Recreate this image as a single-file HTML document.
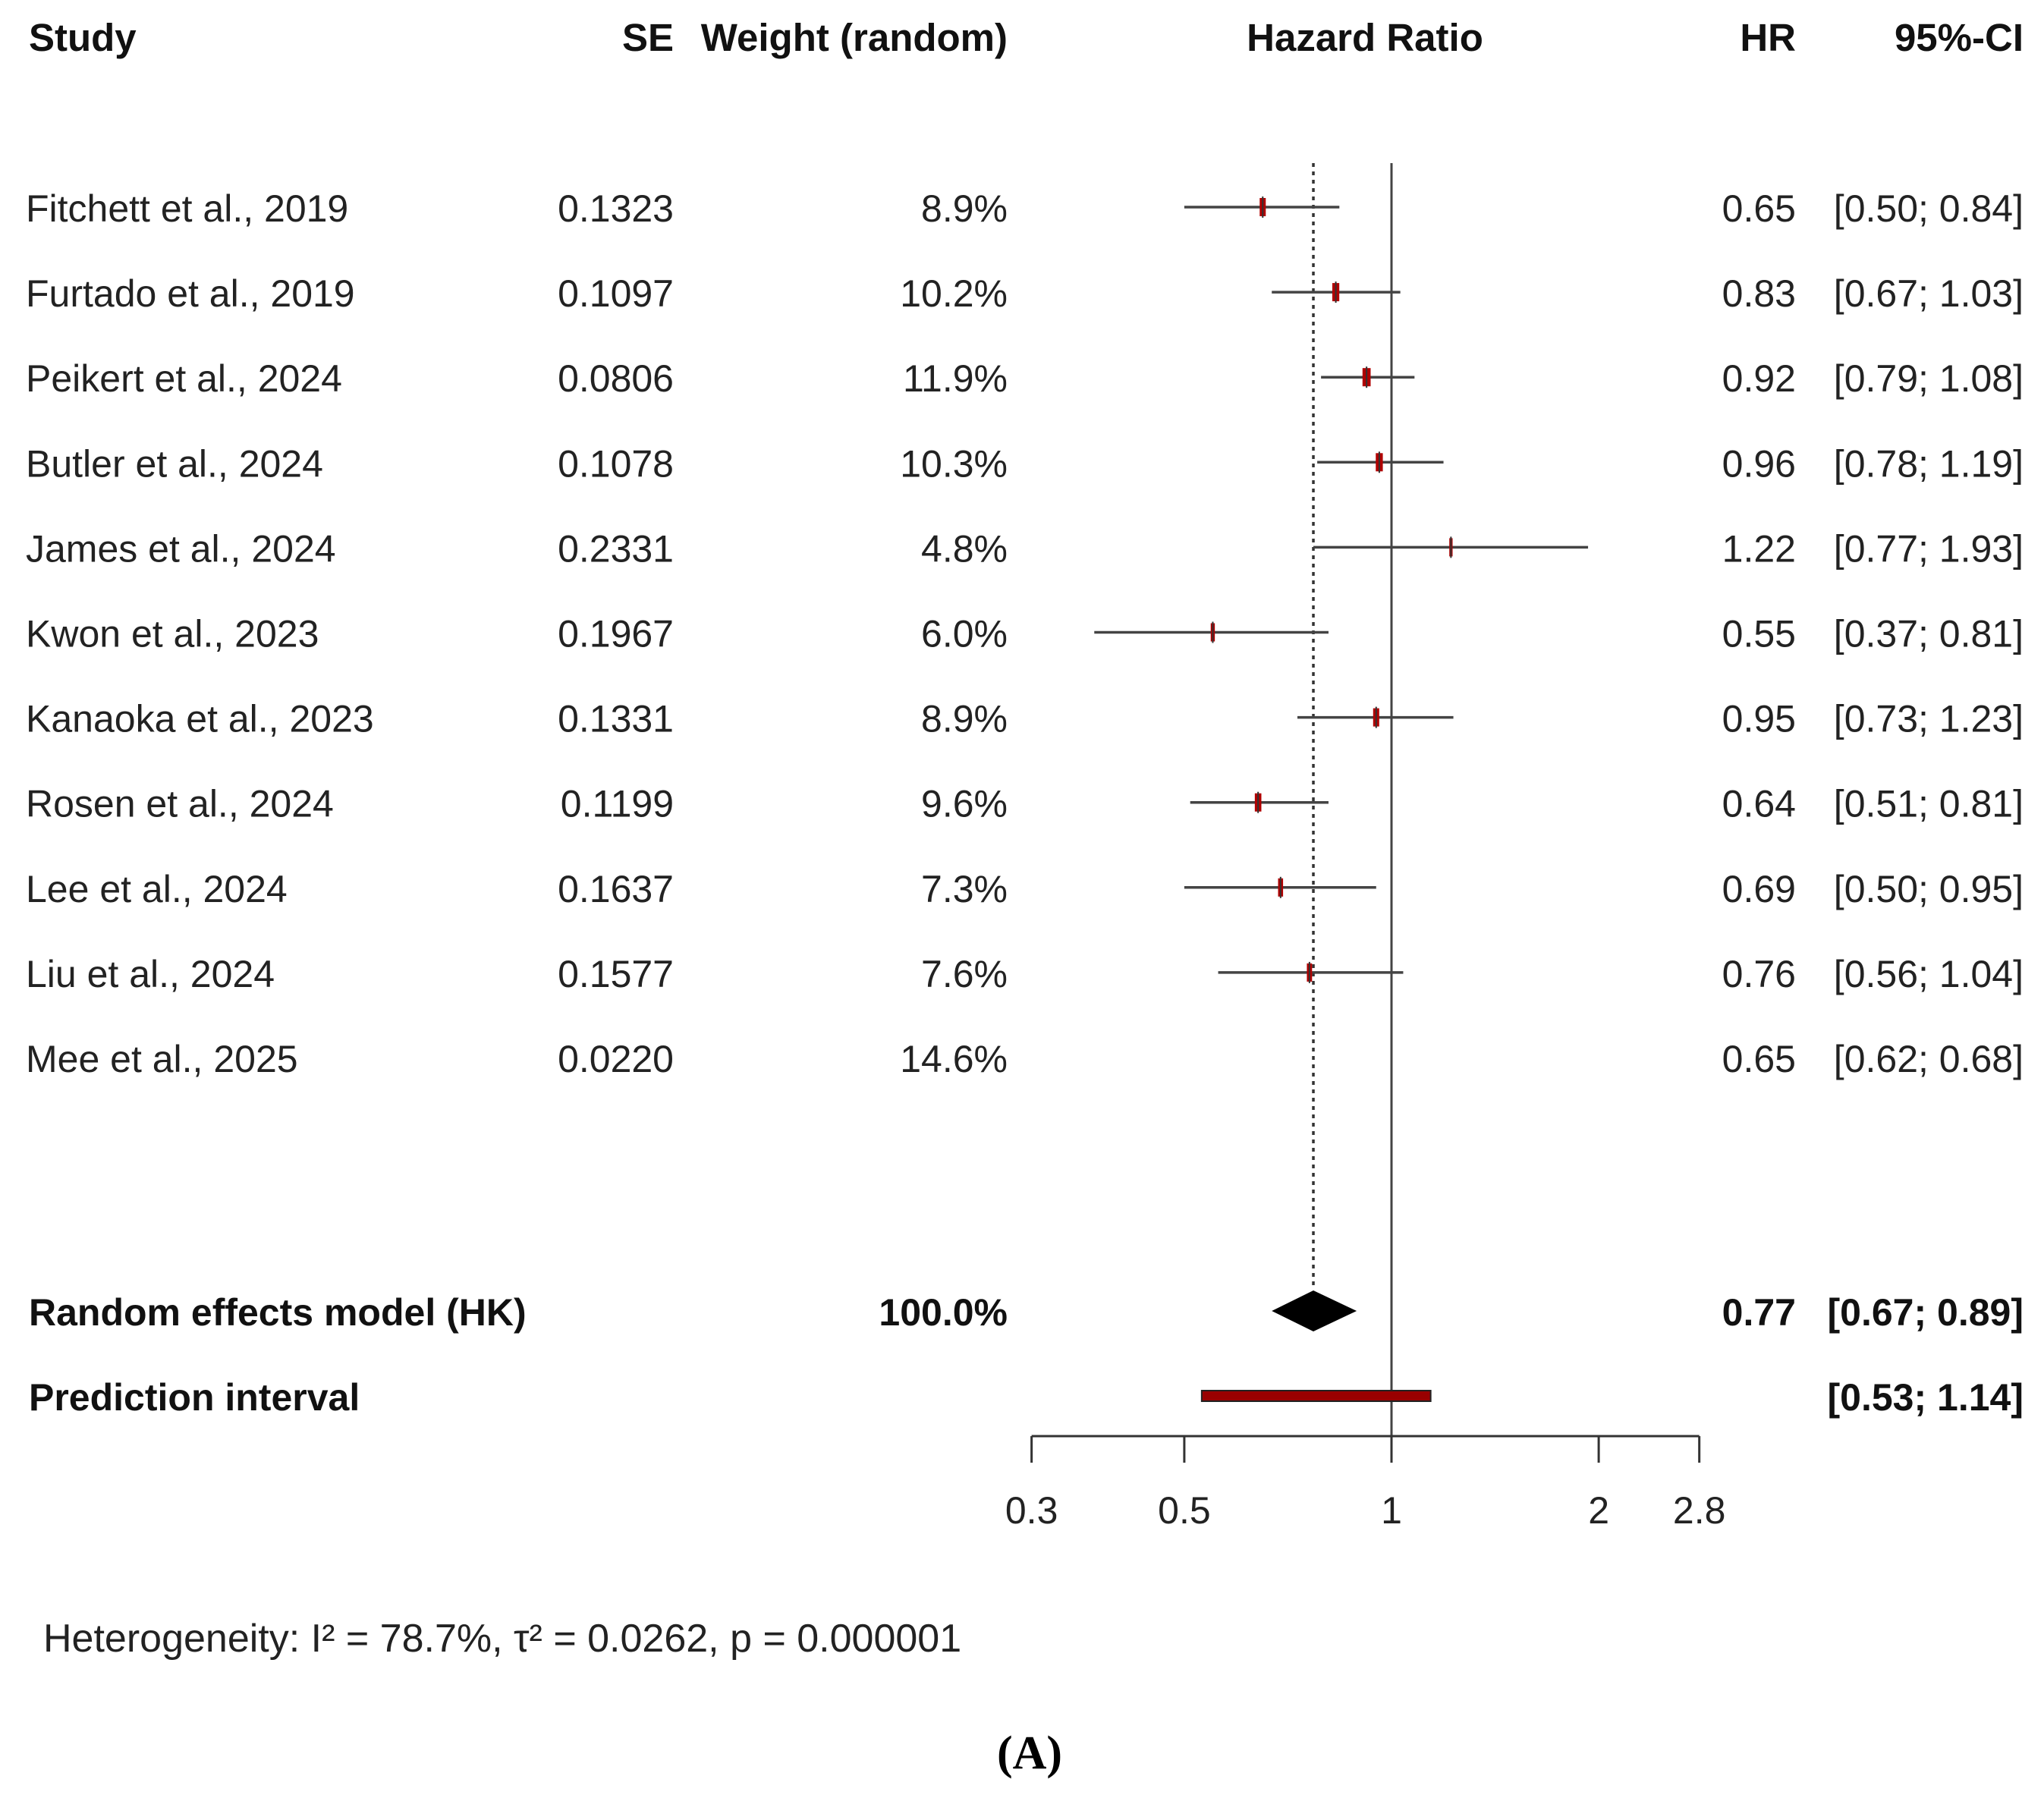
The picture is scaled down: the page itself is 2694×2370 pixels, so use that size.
<!DOCTYPE html>
<html><head><meta charset="utf-8"><style>
html,body{margin:0;padding:0;background:#fff;}
svg{display:block;font-family:"Liberation Sans",Arial,sans-serif;}
</style></head><body>
<svg id="chart" width="2694" height="2370" viewBox="0 0 2694 2370" xmlns="http://www.w3.org/2000/svg">
<g id="hdr" font-weight="bold" font-size="51" fill="#111">
<text x="38" y="67">Study</text>
<text x="888" y="67" text-anchor="end">SE</text>
<text x="1328" y="67" text-anchor="end">Weight (random)</text>
<text x="1799" y="67" text-anchor="middle">Hazard Ratio</text>
<text x="2367" y="67" text-anchor="end">HR</text>
<text x="2667" y="67" text-anchor="end">95%-CI</text>
</g>
<g id="rows"></g>
<g id="plot"></g>
<text x="57" y="2177" font-size="52" fill="#222">Heterogeneity: I² = 78.7%, τ² = 0.0262, p = 0.000001</text>
<text x="1357" y="2331" font-size="62" font-weight="bold" text-anchor="middle" font-family="Liberation Serif, serif">(A)</text>
</svg>
<script>
const studies = ["Fitchett et al., 2019","Furtado et al., 2019","Peikert et al., 2024","Butler et al., 2024","James et al., 2024","Kwon et al., 2023","Kanaoka et al., 2023","Rosen et al., 2024","Lee et al., 2024","Liu et al., 2024","Mee et al., 2025"];
const seVals = ["0.1323","0.1097","0.0806","0.1078","0.2331","0.1967","0.1331","0.1199","0.1637","0.1577","0.0220"];
const weights = [8.9,10.2,11.9,10.3,4.8,6.0,8.9,9.6,7.3,7.6,14.6];
const hr = [0.65,0.83,0.92,0.96,1.22,0.55,0.95,0.64,0.69,0.76,0.65];
const lower = [0.50,0.67,0.79,0.78,0.77,0.37,0.73,0.51,0.50,0.56,0.62];
const upper = [0.84,1.03,1.08,1.19,1.93,0.81,1.23,0.81,0.95,1.04,0.68];
const shown = [1,1,1,1,1,1,1,1,1,1,0];
const pooled = [0.77,0.67,0.89];
const predInt = [0.53,1.14];
const ticks = [0.3,0.5,1,2,2.8];
const tickLabels = ["0.3","0.5","1","2","2.8"];

const NS="http://www.w3.org/2000/svg";
const xs = v => 1834 + 394*Math.log(v);
const ys = i => 273 + 112.1*i;
function mk(tag, attrs, parent, txt){const e=document.createElementNS(NS,tag);for(const k in attrs)e.setAttribute(k,attrs[k]);if(txt!==undefined)e.textContent=txt;parent.appendChild(e);return e;}
const rows=document.getElementById('rows'), plot=document.getElementById('plot');
const f2=v=>v.toFixed(2);

let l=mk('line',{x1:xs(1),x2:xs(1),y1:215,y2:1893,stroke:'#444','stroke-width':3},plot);


l=mk('line',{x1:xs(pooled[0]),x2:xs(pooled[0]),y1:215,y2:1700,stroke:'#333','stroke-width':3.5,'stroke-dasharray':'5 6'},plot);



studies.forEach((s,i)=>{
  const y=ys(i), by=y+19;
  let t=mk('text',{x:34,y:by,'font-size':50,fill:'#222'},rows,s);
  
  
  t=mk('text',{x:888,y:by,'font-size':50,fill:'#222','text-anchor':'end'},rows,seVals[i]);
  
  
  t=mk('text',{x:1328,y:by,'font-size':50,fill:'#222','text-anchor':'end'},rows,weights[i].toFixed(1)+'%');
  
  
  t=mk('text',{x:2367,y:by,'font-size':50,fill:'#222','text-anchor':'end'},rows,f2(hr[i]));
  
  
  t=mk('text',{x:2667,y:by,'font-size':50,fill:'#222','text-anchor':'end'},rows,'['+f2(lower[i])+'; '+f2(upper[i])+']');
  
  
  if(!shown[i]) return;
  const ci=mk('line',{x1:xs(lower[i]),x2:xs(upper[i]),y1:y,y2:y,stroke:'#444','stroke-width':3.5},plot);
  
  
  const w=Math.max(3,weights[i]*0.9);
  const m=mk('rect',{x:xs(hr[i])-w/2,y:y-12,width:w,height:24,fill:'#b00000'},plot);
  
  
  const tk=mk('line',{x1:xs(hr[i]),x2:xs(hr[i]),y1:y-14,y2:y+14,stroke:'#333','stroke-width':2},plot);
  
  
});

const sy=1728, py=1840;
[[38,'Random effects model (HK)','start','summary-label'],[1328,'100.0%','end','summary-weight'],[2367,f2(pooled[0]),'end','summary-hr'],[2667,'['+f2(pooled[1])+'; '+f2(pooled[2])+']','end','summary-ci']].forEach(a=>{
  const t=mk('text',{x:a[0],y:sy+19,'font-size':50,'font-weight':'bold',fill:'#111','text-anchor':a[2]},rows,a[1]);
  
  
});
[[38,'Prediction interval','start','prediction-label'],[2667,'['+f2(predInt[0])+'; '+f2(predInt[1])+']','end','prediction-ci']].forEach(a=>{
  const t=mk('text',{x:a[0],y:py+19,'font-size':50,'font-weight':'bold',fill:'#111','text-anchor':a[2]},rows,a[1]);
  
  
});
const dm=mk('polygon',{points:`${xs(pooled[1])},${sy} ${xs(pooled[0])},${sy-27} ${xs(pooled[2])},${sy} ${xs(pooled[0])},${sy+27}`,fill:'#000'},plot);


const pb=mk('rect',{x:xs(predInt[0]),y:py-7,width:xs(predInt[1])-xs(predInt[0]),height:14,fill:'#990000',stroke:'#222','stroke-width':2},plot);



const ax=mk('line',{x1:xs(ticks[0]),x2:xs(ticks[ticks.length-1]),y1:1893,y2:1893,stroke:'#333','stroke-width':3},plot);


ticks.forEach((v,i)=>{
  const tk=mk('line',{x1:xs(v),x2:xs(v),y1:1893,y2:1928,stroke:'#333','stroke-width':3},plot);
  
  
  const tl=mk('text',{x:xs(v),y:2008,'font-size':50,fill:'#222','text-anchor':'middle'},plot,tickLabels[i]);
  
  
});
</script>
</body></html>
